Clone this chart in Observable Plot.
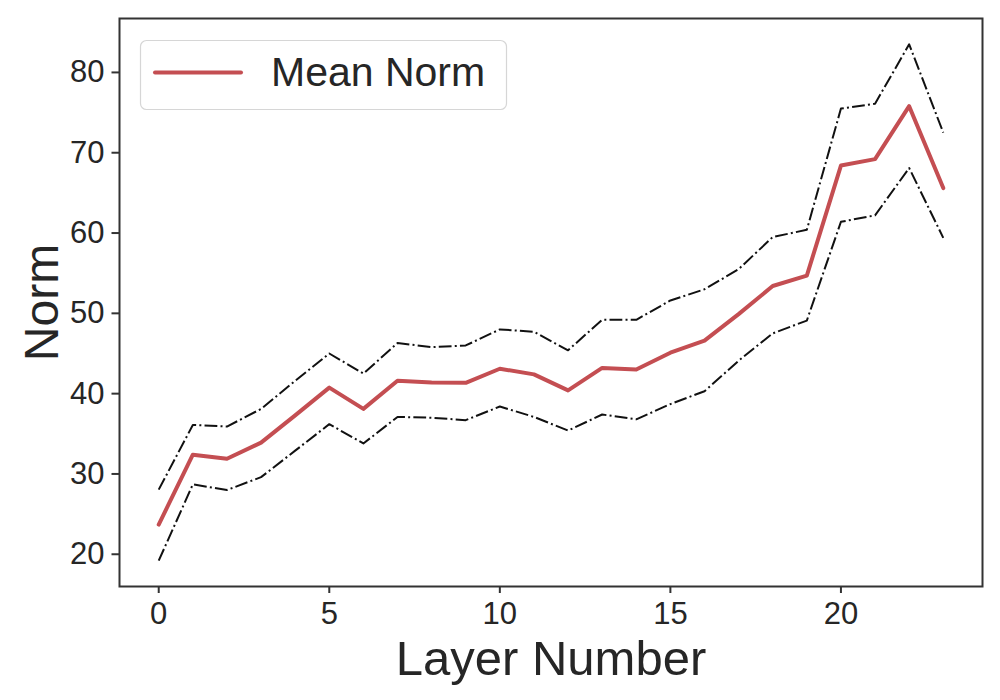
<!DOCTYPE html>
<html><head><meta charset="utf-8">
<script src="https://cdn.jsdelivr.net/npm/d3@7"></script>
<script src="https://cdn.jsdelivr.net/npm/@observablehq/plot@0.6"></script>
<style>
body{margin:0;background:#fff;}
#wrap{position:relative;width:1000px;height:700px;}
#legend{position:absolute;left:0;top:0;pointer-events:none;}
</style></head><body><div id="wrap"></div>
<script>
const layers = [0,1,2,3,4,5,6,7,8,9,10,11,12,13,14,15,16,17,18,19,20,21,22,23];
const meanNorm  = [23.7,32.4,31.9,33.9,37.3,40.75,38.1,41.6,41.4,41.35,43.1,42.4,40.4,43.2,43.0,45.1,46.6,49.9,53.4,54.7,68.4,69.2,75.8,65.6];
const upperNorm = [28.05,36.1,35.9,38.1,41.6,45.0,42.5,46.3,45.8,46.0,48.0,47.7,45.4,49.2,49.2,51.6,53.0,55.5,59.5,60.4,75.5,76.1,83.5,72.5];
const lowerNorm = [19.2,28.7,28.0,29.6,32.9,36.2,33.8,37.1,37.0,36.7,38.4,37.1,35.4,37.4,36.8,38.7,40.3,44.1,47.5,49.1,61.4,62.2,68.1,59.4];
const xTicks = [0,5,10,15,20];
const yTicks = [20,30,40,50,60,70,80];
const seriesLabel = "Mean Norm";
const xLabel = "Layer Number";
const yLabel = "Norm";

const rows = layers.map((l,i)=>({layer:l, mean:meanNorm[i], upper:upperNorm[i], lower:lowerNorm[i]}));
const font = "'Liberation Sans', Arial, sans-serif";
const ink = "#262626";
const dash = "12.8,3.2,2,3.2";

const chart = Plot.plot({
  width:1000, height:700,
  marginLeft:119, marginRight:18, marginTop:18, marginBottom:114,
  style:{fontFamily:font, background:"#fff", color:ink},
  x:{domain:[-1.15,24.15]},
  y:{domain:[15.985,86.715]},
  marks:[
    Plot.axisX({ticks:xTicks, tickSize:7, tickPadding:8, fontSize:31, stroke:"#333", fill:ink, strokeWidth:2, label:null}),
    Plot.axisY({ticks:yTicks, tickSize:7.5, tickPadding:7.5, fontSize:31, stroke:"#333", fill:ink, strokeWidth:2, label:null}),
    Plot.line(rows,{x:"layer", y:"upper", stroke:"#111", strokeWidth:2, strokeDasharray:dash, strokeLinecap:"butt"}),
    Plot.line(rows,{x:"layer", y:"lower", stroke:"#111", strokeWidth:2, strokeDasharray:dash, strokeLinecap:"butt"}),
    Plot.line(rows,{x:"layer", y:"mean", stroke:"#c44e52", strokeWidth:4}),
    Plot.frame({stroke:"#333", strokeWidth:2}),
    Plot.text([xLabel],{frameAnchor:"bottom", text:d=>d, dy:88, lineAnchor:"bottom", fontSize:49, fill:ink}),
    Plot.text([yLabel],{frameAnchor:"left", text:d=>d, rotate:-90, dx:-62, textAnchor:"middle", lineAnchor:"bottom", fontSize:48, fill:ink})
  ]
});
const wrap = document.getElementById("wrap");
wrap.appendChild(chart);

// legend overlay
const leg = d3.select(wrap).append("svg").attr("id","legend").attr("width",1000).attr("height",700);
leg.append("rect").attr("x",140.5).attr("y",40.5).attr("width",366).attr("height",69).attr("rx",6)
  .attr("fill","#fff").attr("fill-opacity",0.8).attr("stroke","#d6d6d6").attr("stroke-width",1.2);
leg.append("line").attr("x1",155).attr("x2",241).attr("y1",72.5).attr("y2",72.5)
  .attr("stroke","#c44e52").attr("stroke-width",4).attr("stroke-linecap","round");
leg.append("text").attr("x",271).attr("y",86).attr("font-family",font).attr("font-size",41)
  .attr("fill",ink).text(seriesLabel);
</script></body></html>
